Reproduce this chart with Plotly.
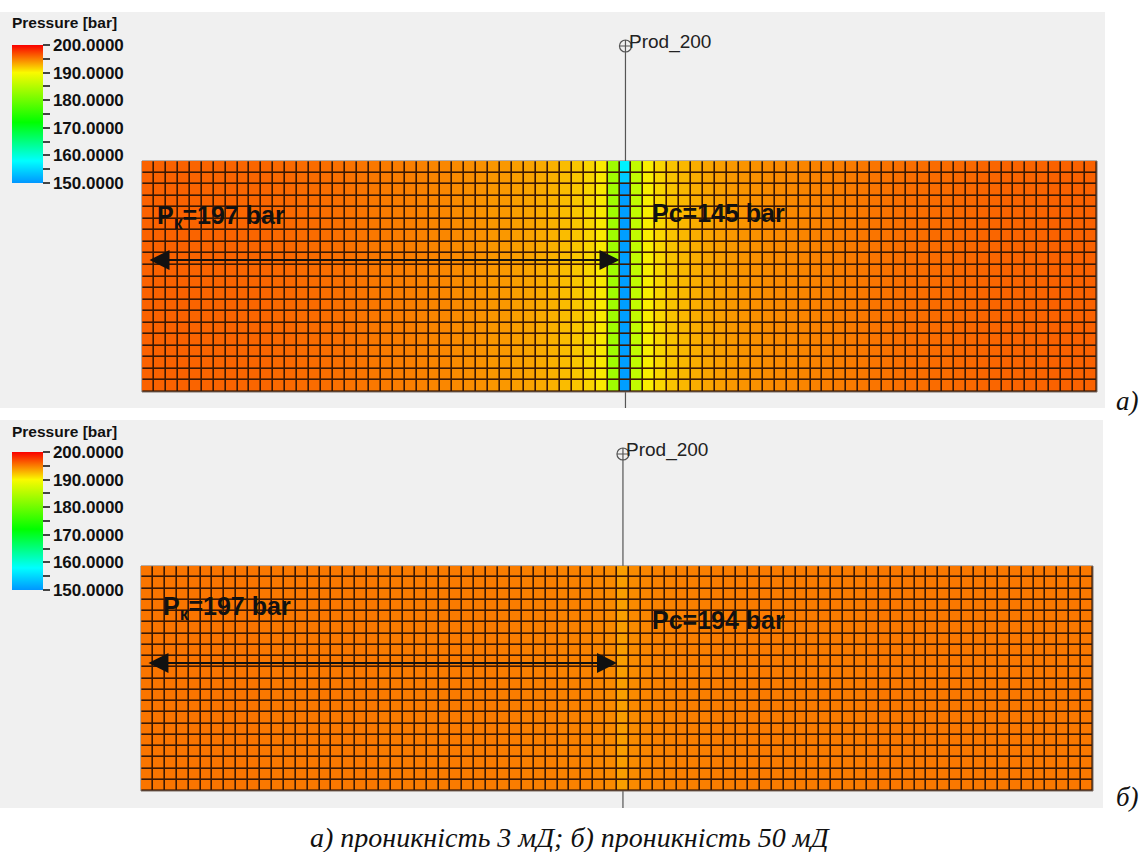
import plotly.graph_objects as go

# ---------------- data ----------------
N_ROWS = 20
WELL_COL = 40
WELL_NAME = "Prod_200"

# panel a (3 mD): pressure per grid column, left of well / well / right of well
A_LEFT = [196.1, 196.1, 196.1, 196.1, 196.0, 196.0, 196.0, 196.0, 195.9, 195.9,
          195.9, 195.8, 195.8, 195.7, 195.7, 195.6, 195.5, 195.4, 195.3, 195.2,
          195.1, 195.0, 194.9, 194.8, 194.7, 194.6, 194.5, 194.3, 194.2, 194.0,
          193.9, 193.7, 193.5, 193.2, 192.9, 192.5, 192.1, 191.5, 190.7, 183.5]
A_WELL = 150.6
A_WELL_TOP = [157.0, 154.0]          # top cells of the well column
A_RIGHT = [186.0, 190.5, 191.5, 192.2, 192.7, 193.1, 193.4, 193.7, 193.9, 194.1,
           194.2, 194.4, 194.5, 194.6, 194.7, 194.8, 194.9, 195.0, 195.1, 195.2,
           195.3, 195.4, 195.5, 195.6, 195.6, 195.7, 195.7, 195.8, 195.8, 195.9,
           195.9, 196.0, 196.0, 196.0, 196.0, 196.1, 196.1, 196.1, 196.1]

# panel b (50 mD)
B_LEFT = [195.3, 195.3, 195.3, 195.3, 195.3, 195.3, 195.3, 195.3, 195.3, 195.3,
          195.2, 195.2, 195.2, 195.2, 195.2, 195.2, 195.2, 195.2, 195.2, 195.2,
          195.1, 195.1, 195.1, 195.1, 195.1, 195.1, 195.1, 195.1, 195.1, 195.1,
          195.0, 195.0, 194.9, 194.9, 194.9, 194.8, 194.8, 194.8, 194.7, 194.5]
B_WELL = 193.7
B_RIGHT = [194.5, 194.7, 194.8, 194.8, 194.9, 194.9, 194.9, 195.0, 195.0, 195.0,
           195.1, 195.1, 195.1, 195.1, 195.1, 195.1, 195.1, 195.1, 195.1, 195.1,
           195.2, 195.2, 195.2, 195.2, 195.2, 195.2, 195.2, 195.2, 195.2, 195.2,
           195.2, 195.2, 195.2, 195.2, 195.2, 195.2, 195.2, 195.2, 195.2]

P_MIN, P_MAX = 150, 200
CB_TICKS = [150, 155, 160, 165, 170, 175, 180, 185, 190, 195, 200]
CB_TICKTEXT = ["150.0000", "", "160.0000", "", "170.0000", "", "180.0000", "",
               "190.0000", "", "200.0000"]

LABEL_A_PK = "P<sub>к</sub>=197 bar"
LABEL_A_PC = "Pc=145 bar"
LABEL_B_PK = "P<sub>к</sub>=197 bar"
LABEL_B_PC = "Pc=194 bar"
CAPTION = "а) проникність 3 мД; б) проникність 50 мД"

# ---------------- layout geometry (pixels) ----------------
W, H = 1142, 852
PANELS = {
    "a": dict(px0=0, px1=1105, py0=12, py1=408, gx0=142, gx1=1097, gy0=161, gy1=392,
              well_py=46, cb_top=45, title_py=22, pk=(155, 217), pc=(650, 213),
              arrow_py=260, tag="а)", tag_py=401),
    "b": dict(px0=0, px1=1103, py0=420, py1=808, gx0=141, gx1=1093, gy0=566, gy1=791,
              well_py=454, cb_top=452, title_py=431, pk=(161, 608), pc=(650, 620),
              arrow_py=663, tag="б)", tag_py=797),
}

COLORSCALE = [[0.0, "rgb(0,150,255)"], [0.16, "rgb(0,255,255)"], [0.44, "rgb(0,255,0)"],
              [0.8, "rgb(250,250,0)"], [1.0, "rgb(250,0,0)"]]

FONT = "Liberation Sans, Arial, sans-serif"
SERIF = "Liberation Serif, Times New Roman, serif"


def build_z(left, well, right, well_top=None):
    row = list(left) + [well] + list(right)
    z = [row[:] for _ in range(N_ROWS)]
    if well_top:
        for r, v in enumerate(well_top):
            z[r][len(left)] = v
    return z


ZA = build_z(A_LEFT, A_WELL, A_RIGHT, A_WELL_TOP)
ZB = build_z(B_LEFT, B_WELL, B_RIGHT)

fig = go.Figure()
shapes, annotations = [], []

for idx, (key, z) in enumerate([("a", ZA), ("b", ZB)]):
    g = PANELS[key]
    ncols = len(z[0])
    cw = (g["gx1"] - g["gx0"]) / ncols
    ch = (g["gy1"] - g["gy0"]) / N_ROWS

    def X(px, g=g, cw=cw):
        return -0.5 + (px - g["gx0"]) / cw

    def Y(py, g=g, ch=ch):
        return -0.5 + (py - g["gy0"]) / ch

    xa = "x" if idx == 0 else "x2"
    ya = "y" if idx == 0 else "y2"
    xl = "xaxis" if idx == 0 else "xaxis2"
    yl = "yaxis" if idx == 0 else "yaxis2"

    fig.update_layout(**{
        xl: dict(domain=[g["px0"] / W, g["px1"] / W], range=[X(g["px0"]), X(g["px1"])],
                 visible=False, anchor=ya, fixedrange=True),
        yl: dict(domain=[1 - g["py1"] / H, 1 - g["py0"] / H], range=[Y(g["py1"]), Y(g["py0"])],
                 visible=False, anchor=xa, fixedrange=True),
    })

    # panel background
    shapes.append(dict(type="rect", xref=f"{xa} domain", yref=f"{ya} domain", x0=0, x1=1, y0=0, y1=1,
                       fillcolor="#F0F0F0", line=dict(width=0), layer="below"))
    # well trajectory (behind the grid)
    shapes.append(dict(type="line", xref=xa, yref=ya, x0=WELL_COL, x1=WELL_COL,
                       y0=Y(g["well_py"] + 6), y1=Y(g["py1"]), line=dict(color="#555555", width=1.2),
                       layer="below"))
    # grid-line background
    shapes.append(dict(type="rect", xref=xa, yref=ya, x0=-0.5, x1=ncols - 0.5, y0=-0.5, y1=N_ROWS - 0.5,
                       fillcolor="rgb(58,24,4)", line=dict(color="#7a6a60", width=1), layer="below"))

    fig.add_trace(go.Heatmap(
        z=z, x=list(range(ncols)), y=list(range(N_ROWS)), xaxis=xa, yaxis=ya,
        zmin=P_MIN, zmax=P_MAX, colorscale=COLORSCALE, xgap=1.6, ygap=1.6,
        hoverinfo="skip", showscale=True,
        colorbar=dict(
            x=12 / W, xanchor="left", xpad=0, y=1 - g["cb_top"] / H, yanchor="top", ypad=0,
            len=138, lenmode="pixels", thickness=31, thicknessmode="pixels",
            outlinewidth=0, tickmode="array", tickvals=CB_TICKS, ticktext=CB_TICKTEXT,
            ticks="outside", ticklen=7, tickwidth=1.5, tickcolor="#444444",
            tickfont=dict(family=FONT, size=17, color="#111111", weight="bold"),
        ),
    ))

    # well head marker
    fig.add_trace(go.Scatter(
        x=[WELL_COL], y=[Y(g["well_py"])], xaxis=xa, yaxis=ya, mode="markers",
        marker=dict(symbol="circle-cross-open", size=12, color="#555555", line=dict(width=1.2)),
        hoverinfo="skip", showlegend=False, cliponaxis=False,
    ))
    annotations.append(dict(xref=xa, yref=ya, x=WELL_COL + 0.1, y=Y(g["well_py"] - 4), text=WELL_NAME,
                            showarrow=False, xanchor="left", yanchor="middle",
                            font=dict(family=FONT, size=19, color="#222222")))

    # colorbar title
    annotations.append(dict(xref="paper", yref="paper", x=10 / W, y=1 - g["title_py"] / H,
                            text="Pressure [bar]", showarrow=False, xanchor="left", yanchor="middle",
                            font=dict(family=FONT, size=15.5, color="#111111", weight="bold")))

    pk_text = LABEL_A_PK if key == "a" else LABEL_B_PK
    pc_text = LABEL_A_PC if key == "a" else LABEL_B_PC
    annotations.append(dict(xref=xa, yref=ya, x=X(g["pk"][0]), y=Y(g["pk"][1]), text=pk_text,
                            showarrow=False, xanchor="left", yanchor="middle",
                            font=dict(family=FONT, size=25, color="#111111", weight="bold")))
    annotations.append(dict(xref=xa, yref=ya, x=X(g["pc"][0]), y=Y(g["pc"][1]), text=pc_text,
                            showarrow=False, xanchor="left", yanchor="middle",
                            font=dict(family=FONT, size=25, color="#111111", weight="bold")))

    # double arrow from the boundary to the well
    ay = Y(g["arrow_py"])
    annotations.append(dict(xref=xa, yref=ya, axref=xa, ayref=ya, x=WELL_COL - 0.5, y=ay,
                            ax=0.0, ay=ay, text="", showarrow=True, arrowside="end+start",
                            arrowhead=2, startarrowhead=2, arrowsize=2, startarrowsize=2,
                            arrowwidth=2, arrowcolor="#111111", standoff=0, startstandoff=0))

    # panel tag
    annotations.append(dict(xref="paper", yref="paper", x=1127 / W, y=1 - g["tag_py"] / H, text=g["tag"],
                            showarrow=False, xanchor="center", yanchor="middle",
                            font=dict(family=SERIF, size=27, color="#111111", style="italic")))

annotations.append(dict(xref="paper", yref="paper", x=570 / W, y=1 - 837 / H, text=CAPTION,
                        showarrow=False, xanchor="center", yanchor="middle",
                        font=dict(family=SERIF, size=28, color="#111111", style="italic")))

fig.update_layout(
    width=W, height=H, margin=dict(l=0, r=0, t=0, b=0),
    paper_bgcolor="white", plot_bgcolor="#F0F0F0",
    shapes=shapes, annotations=annotations, showlegend=False,
)

fig.write_html("out.html")
